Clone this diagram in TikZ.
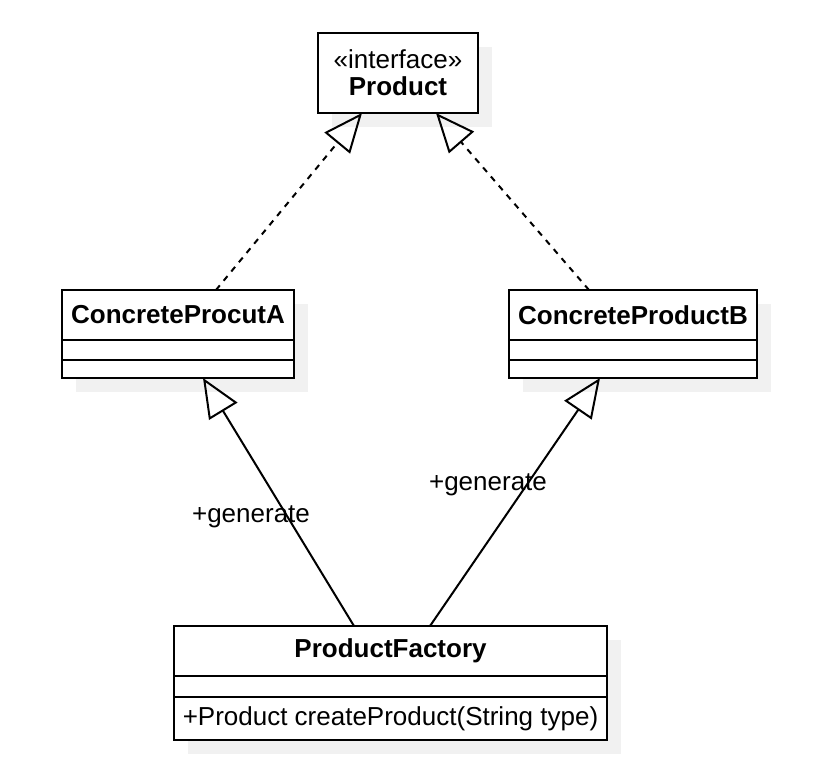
\documentclass[tikz,border=0pt]{standalone}
\usepackage{fontspec}
\setmainfont{Liberation Sans}
\usepackage{tikz}
\usetikzlibrary{arrows.meta,positioning,backgrounds}
\definecolor{shadowgray}{HTML}{F1F1F1}
\newcommand{\umlfont}{\fontsize{26}{27}\selectfont}
\tikzset{
	classhead/.style = {draw, rectangle, fill=white,
		outer sep=0pt, inner sep=0pt,
		font=\umlfont\bfseries},
	classpart/.style = {draw, rectangle, fill=white,
		outer sep=0pt, inner sep=0pt,
		font=\umlfont},
	classshadow/.style = {fill=shadowgray},
}
\begin{document}
\begin{tikzpicture}[ x=1pt, y=-1pt,                 %<--pixel units, y going down
                     line width=2pt,                 %<--setting line style
                     font=\umlfont,
                     >/.tip={Triangle[open, length=39pt, width=33pt]}
                     ]

    \useasboundingbox (0,0) rectangle (816,770);

    %-- Blocks creation --%
    \draw
      % INTERFACE %
      node(product) at (398,73) [classhead, align=center,
        minimum width=160pt, minimum height=80pt] {\mdseries «interface»\\Product}
    ;
    \draw
      % CONCRETE PRODUCTS %
      node(headA) at (178,315) [classhead, minimum width=232pt, minimum height=50pt] {ConcreteProcutA}
      node(attrA) [classpart, below=0pt of headA, minimum width=232pt, minimum height=20pt] {}
      node(methA) [classpart, below=0pt of attrA, minimum width=232pt, minimum height=18pt] {}

      node(headB) at (633,315) [classhead, minimum width=248pt, minimum height=50pt] {ConcreteProductB}
      node(attrB) [classpart, below=0pt of headB, minimum width=248pt, minimum height=20pt] {}
      node(methB) [classpart, below=0pt of attrB, minimum width=248pt, minimum height=18pt] {}
    ;
    \draw
      % FACTORY %
      node(headF) at (390.5,651) [classhead, minimum width=433pt, minimum height=50pt] {ProductFactory}
      node(attrF) [classpart, below=0pt of headF, minimum width=433pt, minimum height=21pt] {}
      node(methF) [classpart, below=0pt of attrF, minimum width=433pt, minimum height=43pt]
        {+Product createProduct(String type)}
    ;

    %-- Shadows --%
    \begin{scope}[on background layer]
      \fill[classshadow] ([shift={(14pt,-14pt)}]product.north west) rectangle ([shift={(14pt,-14pt)}]product.south east);
      \fill[classshadow] ([shift={(14pt,-14pt)}]headA.north west)   rectangle ([shift={(14pt,-14pt)}]methA.south east);
      \fill[classshadow] ([shift={(14pt,-14pt)}]headB.north west)   rectangle ([shift={(14pt,-14pt)}]methB.south east);
      \fill[classshadow] ([shift={(14pt,-14pt)}]headF.north west)   rectangle ([shift={(14pt,-14pt)}]methF.south east);
    \end{scope}

    %-- Block linking --%
    % REALIZATION %
    \draw[->, dash pattern=on 6pt off 6pt] ([xshift=38pt]headA.north)  -- ([xshift=-36pt]product.south);
    \draw[->, dash pattern=on 6pt off 6pt] ([xshift=-44pt]headB.north) -- ([xshift=38pt]product.south);

    % GENERATE %
    \draw[->] ([xshift=-36.5pt]headF.north) -- ([xshift=25pt]methA.south);
    \draw[->] ([xshift=39.5pt]headF.north)  -- ([xshift=-33pt]methB.south);

    %-- Labels --%
    \draw
      node(genA) at (251,517) {+generate}
      node(genB) at (488,485) {+generate}
    ;

\end{tikzpicture}
\end{document}
